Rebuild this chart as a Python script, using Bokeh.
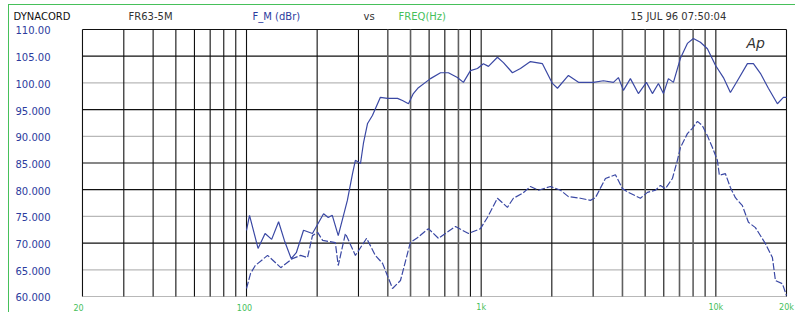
from bokeh.plotting import figure
from bokeh.models import Label
from bokeh.embed import file_html
from bokeh.resources import INLINE

# on-axis response (solid)
freq_on = [100, 103, 112, 120, 128, 137, 145, 155, 163, 175,
           191, 213, 223, 232, 246, 259, 269, 283, 291, 306,
           315, 328, 344, 372, 399, 440, 462, 490, 514, 540,
           608, 671, 725, 792, 840, 900, 964, 1022, 1074, 1173,
           1244, 1359, 1470, 1621, 1824, 2012, 2114, 2354, 2598, 2782,
           3008, 3318, 3660, 3844, 4038, 4324, 4677, 5060, 5367, 5692,
           5980, 6280, 6596, 7064, 7564, 8022, 8594, 9206, 9960, 10772,
           11536, 12356, 13632, 14456, 15482, 16744, 18294, 19402, 20000]
level_on = [72.4, 75.2, 69.0, 71.8, 70.7, 74.0, 70.5, 67.1, 68.2, 72.4,
            71.8, 75.5, 74.8, 75.2, 71.4, 75.2, 78.0, 83.0, 85.5, 84.9,
            88.7, 92.4, 93.9, 97.3, 97.1, 97.1, 96.7, 96.1, 98.0, 99.1,
            100.8, 101.9, 101.9, 101.0, 100.1, 102.3, 102.7, 103.6, 103.1, 104.8,
            103.8, 101.9, 102.7, 104.0, 103.6, 99.9, 99.0, 101.4, 100.1, 100.1,
            100.1, 100.4, 100.1, 101.0, 98.6, 100.8, 98.0, 100.1, 98.0, 99.9,
            98.0, 100.8, 100.1, 104.6, 107.4, 108.3, 107.6, 106.4, 103.3, 101.0,
            98.2, 100.4, 103.6, 103.6, 101.8, 99.0, 96.1, 97.3, 97.3]

# off-axis response (dashed)
freq_off = [100, 104, 109, 123, 140, 157, 170, 182, 191, 201,
            211, 239, 246, 264, 291, 325, 354, 380, 419, 453,
            499, 535, 596, 657, 777, 883, 993, 1063, 1173, 1294,
            1372, 1499, 1621, 1754, 1972, 2177, 2354, 2648, 2920, 3068,
            3384, 3733, 3998, 4243, 4770, 5111, 5528, 5805, 6095, 6530,
            6858, 7064, 7564, 7944, 8348, 8764, 9206, 9670, 10152, 10354,
            10984, 11536, 12116, 12980, 13768, 14746, 16264, 17420, 17942, 19210,
            20000]
level_off = [61.5, 64.3, 65.8, 67.7, 65.4, 67.1, 67.7, 67.3, 71.4, 72.0,
             70.5, 70.1, 65.8, 71.8, 67.7, 70.9, 67.7, 66.2, 61.5, 63.0,
             70.1, 71.0, 72.7, 70.9, 73.1, 71.8, 72.7, 74.8, 78.4, 76.7,
             78.4, 79.3, 80.6, 79.9, 80.6, 79.9, 78.7, 78.4, 78.0, 78.5,
             82.1, 82.8, 80.2, 79.5, 78.4, 79.5, 79.9, 80.8, 80.2, 82.1,
             85.5, 87.9, 90.5, 91.5, 92.8, 92.0, 90.1, 87.9, 85.5, 82.7,
             83.0, 80.4, 78.5, 77.0, 73.9, 72.9, 69.9, 67.3, 63.0, 62.4,
             60.2]

y_ticks = [60, 65, 70, 75, 80, 85, 90, 95, 100, 105, 110]
y_tick_labels = ["60.000", "65.000", "70.000", "75.000", "80.000", "85.000",
                 "90.000", "95.000", "100.00", "105.00", "110.00"]
x_ticks = [20, 100, 1000, 10000, 20000]
x_tick_labels = ["20", "100", "1k", "10k", "20k"]

grid_y_black = [70, 80, 85, 95, 105, 110]
grid_y_light = [60, 65, 75, 90, 100]
grid_x_black = [20, 30, 40, 50, 60, 70, 80, 90, 100, 200, 300, 600, 700, 900,
                1000, 2000, 3000, 6000, 9000, 10000, 20000]
grid_x_dark = [400, 500, 800, 4000, 5000, 7000, 8000]

header_texts = ["DYNACORD", "FR63-5M", "F_M (dBr)", "vs", "FREQ(Hz)", "15 JUL  96  07:50:04"]

F_MIN, F_MAX = 20, 20000
L_MIN, L_MAX = 60, 110

BLUE = "#3a48a4"
LABEL_BLUE = "#2c3b9e"
GREEN = "#46c05a"
FONT = "DejaVu Sans"

# the frame covers the whole canvas: header strip, label column and tick-label row
p = figure(width=787, height=308, x_axis_type="log", x_range=(9.773, 22065),
           y_range=(56.816, 114.307), output_backend="svg", toolbar_location=None,
           min_border_left=0, min_border_right=0, min_border_top=1,
           min_border_bottom=0)
p.styles = {"margin-left": "8px", "margin-top": "4px",
            "border-left": "1px solid " + GREEN, "border-top": "1px solid " + GREEN}
p.outline_line_color = None
p.grid.visible = False
p.background_fill_color = "white"
p.border_fill_color = "white"
p.yaxis.visible = False
p.xaxis.visible = False

# grid
p.segment(x0=F_MIN, x1=F_MAX, y0=grid_y_light, y1=grid_y_light,
          line_color="#b8b8b8", line_width=1.2)
p.segment(x0=F_MIN, x1=F_MAX, y0=grid_y_black, y1=grid_y_black,
          line_color="#111111", line_width=1.2)
p.segment(x0=grid_x_dark, x1=grid_x_dark, y0=L_MIN, y1=L_MAX,
          line_color="#606060", line_width=1.6)
p.segment(x0=grid_x_black, x1=grid_x_black, y0=L_MIN, y1=L_MAX,
          line_color="#111111", line_width=1.1)

p.line(freq_on, level_on, line_color=BLUE, line_width=1.2)
p.line(freq_off, level_off, line_color=BLUE, line_width=1.2, line_dash="7 2")

# frequency labels under the grid
x_label_shift = [-4, -2, 0, 0, 0]
for v, t, dx in zip(x_ticks, x_tick_labels, x_label_shift):
    p.add_layout(Label(x=v, y=6, x_units="data", y_units="screen", text=t,
                       text_font=FONT, text_font_size="8px", text_color=GREEN,
                       text_align="center", text_baseline="middle", x_offset=dx))

# level labels in the left column
for v, t in zip(y_ticks, y_tick_labels):
    p.add_layout(Label(x=41, y=v, x_units="screen", y_units="data", text=t,
                       text_font=FONT, text_font_size="10px", text_color=LABEL_BLUE,
                       text_align="right", text_baseline="middle", y_offset=-1))

# header line
header_x = [4, 119, 243, 354, 389, 621]
header_colors = ["#111111", "#333333", LABEL_BLUE, "#333333", GREEN, "#333333"]
for t, xx, c in zip(header_texts, header_x, header_colors):
    p.add_layout(Label(x=xx, y=297, x_units="screen", y_units="screen", text=t,
                       text_font=FONT, text_font_size="10px", text_color=c,
                       text_baseline="middle"))

p.add_layout(Label(x=13500, y=107.4, text="Ap", text_font=FONT,
                   text_font_style="italic", text_font_size="14px",
                   text_color="#333333", text_baseline="middle"))

open("out.html", "w").write(file_html(p, INLINE))
